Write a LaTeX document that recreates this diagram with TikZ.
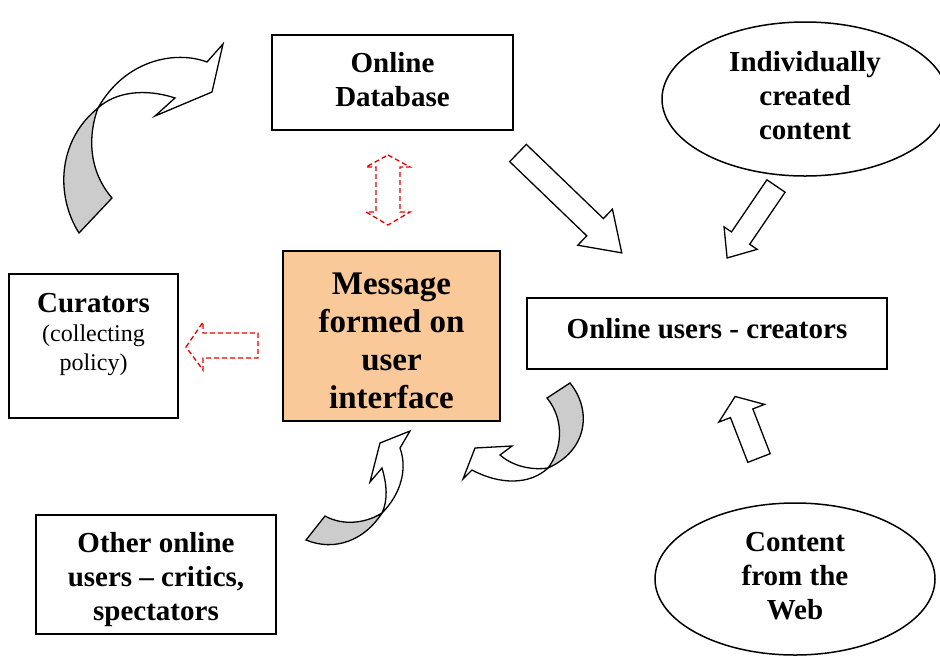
\documentclass[tikz,border=0pt]{standalone}
\usepackage{fontspec}
\setmainfont{Liberation Serif}
\usetikzlibrary{shapes.geometric}
\definecolor{msgorange}{RGB}{249,201,153}
\definecolor{backgray}{RGB}{204,204,204}
\tikzset{
  box/.style = {draw = black, line width = 1.5, inner sep = 0},
  bubble/.style = {box, ellipse},
  boxtext/.style = {align = center, inner sep = 0, font = \bfseries\fontsize{29}{34}\selectfont},
  blockarrow/.style = {draw = black, fill = white, line width = 1.3, line join = miter},
  reddash/.style = {draw = red!90!black, line width = 1.3, dash pattern = on 5pt off 3pt},
  curveback/.style = {draw = black, fill = backgray, line width = 1.3},
  curvefront/.style = {draw = black, fill = white, line width = 1.3}
}
\begin{document}
\begin{tikzpicture}[x = 1pt, y = -1pt]
\useasboundingbox (0,0) rectangle (940,657);
\node[box, minimum width = 241, minimum height = 95] (db) at (392.5,82.5) {};
\node[boxtext] (dbtext) at ([yshift = 2.5pt]db.center) {Online\\Database};
\node[box, fill = msgorange, line width = 2.2, minimum width = 217, minimum height = 170] (msg) at (391.5,336) {};
\node[boxtext, font = \bfseries\fontsize{33}{38}\selectfont] (msgtext) at ([yshift = -5pt]msg.center) {Message\\formed on\\user\\interface};
\node[box, minimum width = 169, minimum height = 144] (cur) at (93.5,346) {};
\node[align = center, inner sep = 0, font = \fontsize{24}{29}\selectfont] (curtext) at ([yshift = 12pt]cur.center) {\textbf{\fontsize{29}{30}\selectfont Curators}\\(collecting\\policy)};
\node[box, minimum width = 360, minimum height = 71] (users) at (707,333.5) {};
\node[boxtext] (userstext) at ([yshift = 5pt]users.center) {Online users - creators};
\node[box, minimum width = 240, minimum height = 119] (other) at (156,574.5) {};
\node[boxtext] (othertext) at ([yshift = -5pt]other.center) {Other online\\users -- critics,\\spectators};
\node[bubble, minimum width = 286, minimum height = 154] (indiv) at (805,99) {};
\node[boxtext] (indivtext) at ([yshift = 3pt]indiv.center) {Individually\\created\\content};
\node[bubble, minimum width = 280, minimum height = 152] (web) at (795,579) {};
\node[boxtext] (webtext) at ([yshift = 3pt]web.center) {Content\\from the\\Web};
\foreach \x/\y/\a/\l/\s/\h/\hl in {518/153/-43.9/144/24/50/37, 776/186/-124.2/87/22/40/24, 759/458/111.2/66/24/49/18}
  \draw[blockarrow, shift = {(\x,\y)}, rotate = \a] (0,-\s/2) -- (\l-\hl,-\s/2) -- (\l-\hl,-\h/2) -- (\l,0) -- (\l-\hl,\h/2) -- (\l-\hl,\s/2) -- (0,\s/2) -- cycle;
\draw[reddash] (388,155) -- (410,167) -- (400,167) -- (400,212) -- (410,212) -- (388,225) -- (366,212) -- (376,212) -- (376,167) -- (366,167) -- cycle;
\draw[reddash] (186,347) -- (203,322) -- (203,333) -- (258,333) -- (258,358) -- (203,358) -- (203,370) -- cycle;
\draw[curveback] (79,233) .. controls (55,195) and (58,140) .. (98,108) .. controls (88,135) and (88,170) .. (112,198) -- cycle;
\draw[curvefront] (98,108) .. controls (125,60) and (175,50) .. (207,62) -- (223,44) -- (212,92) -- (155,116) -- (175,98) .. controls (145,88) and (115,92) .. (98,108) -- cycle;
\draw[curveback] (306,540) -- (325,516) .. controls (345,527) and (368,522) .. (382,513) .. controls (365,540) and (335,552) .. (306,540) -- cycle;
\draw[curvefront] (382,513) .. controls (400,495) and (408,470) .. (400,448) -- (410,431) -- (380,443) -- (370,482) -- (382,468) .. controls (387,485) and (388,500) .. (382,513) -- cycle;
\draw[curveback] (547,398) -- (570,383) .. controls (592,410) and (588,450) .. (548,468) .. controls (562,450) and (565,420) .. (547,398) -- cycle;
\draw[curvefront] (548,468) .. controls (530,485) and (500,485) .. (472,470) -- (463,479) -- (475,448) -- (512,446) -- (500,455) .. controls (515,468) and (535,470) .. (548,468) -- cycle;
\end{tikzpicture}
\end{document}
